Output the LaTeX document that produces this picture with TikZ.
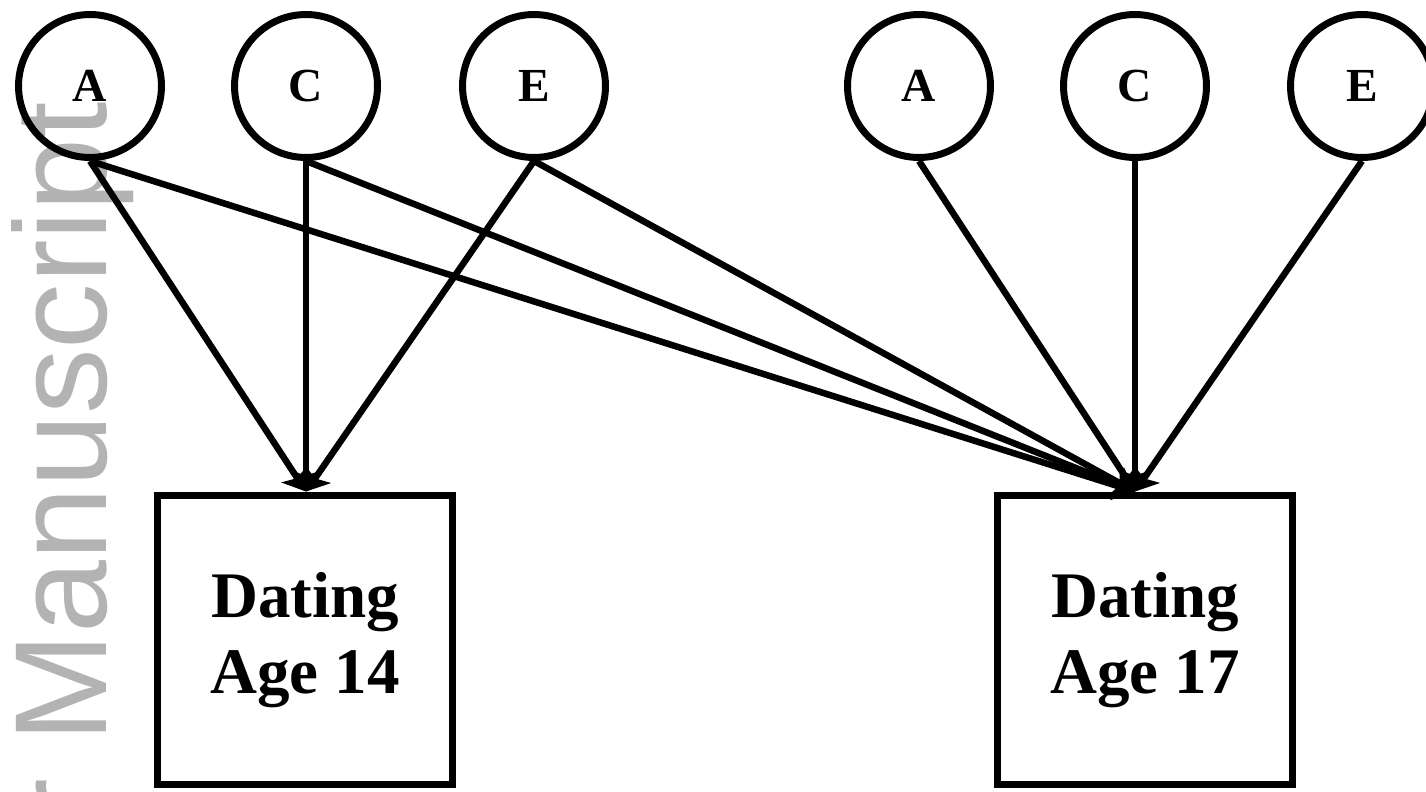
\documentclass[tikz,border=0pt]{standalone}
\usepackage{fontspec}
\setmainfont{Liberation Serif}
\newfontfamily\wmfont{Liberation Sans}
\usepackage{xcolor}
\usetikzlibrary{arrows.meta}
\definecolor{wm-gray}{HTML}{B3B3B3}

\begin{document}
\begin{tikzpicture}[x=0.02cm, y=-0.02cm,
        latent/.style={draw, circle, line width=0.14cm, minimum size=2.86cm, inner sep=0pt,
            font=\fontsize{27}{30}\selectfont\bfseries},
        measure/.style={draw, line width=0.14cm, minimum width=5.9cm, minimum height=5.8cm,
            align=center, font=\fontsize{37}{43}\selectfont\bfseries},
        link/.style={line width=0.13cm, -{Stealth[length=0.42cm, width=0.62cm, inset=0.1cm]}},
        wmark/.style={rotate=90, anchor=base west, inner sep=0pt, text=wm-gray,
            font=\wmfont\fontsize{74.6}{80}\selectfont}]
      \useasboundingbox (0,0) rectangle (1426,791);
      \clip (0,0) rectangle (1426,791);
      % watermark
      \node[wmark] (wm) at (106,823) {r Manuscript};
      % latent factors
      \node[latent] (a1) at (90,86) {A};
      \node[latent] (c1) at (306,86) {C};
      \node[latent] (e1) at (534,86) {E};
      \node[latent] (a2) at (919,86) {A};
      \node[latent] (c2) at (1135,86) {C};
      \node[latent] (e2) at (1362,86) {E};
      % observed
      \node[measure] (d14) at (305,640) {Dating\\Age 14};
      \node[measure] (d17) at (1145,640) {Dating\\Age 17};
      \coordinate (t14) at (c1.south |- d14.north);
      \coordinate (t17) at (c2.south |- d17.north);
      % paths
      \draw[link] (a1.south) -- (t14);
      \draw[link] (c1.south) -- (t14);
      \draw[link] (e1.south) -- (t14);
      \draw[link] (a1.south) -- (t17);
      \draw[link] (c1.south) -- (t17);
      \draw[link] (e1.south) -- (t17);
      \draw[link] (a2.south) -- (t17);
      \draw[link] (c2.south) -- (t17);
      \draw[link] (e2.south) -- (t17);
    \end{tikzpicture}
\end{document}
